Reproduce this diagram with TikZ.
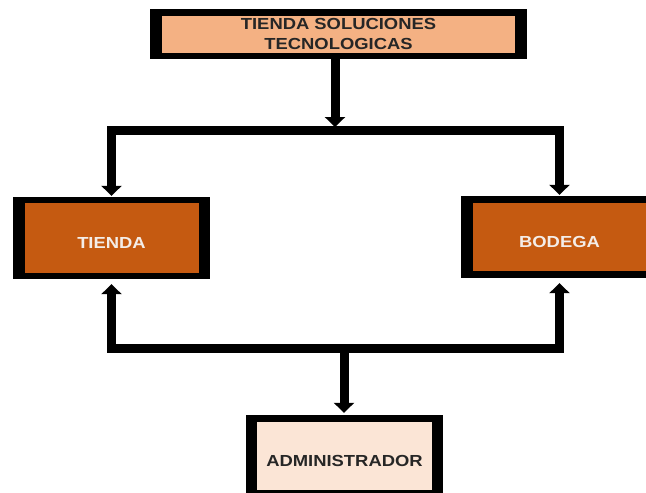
\documentclass[tikz,border=0pt]{standalone}
\usepackage{fontspec}
\setmainfont{Liberation Sans}
\newfontfamily\boxfont{Liberation Sans}[FakeStretch=1.15]
\usetikzlibrary{arrows.meta}
\definecolor{peach}{HTML}{F4B183}
\definecolor{rust}{HTML}{C55A11}
\definecolor{blush}{HTML}{FBE5D6}
\definecolor{ink}{HTML}{262626}
\definecolor{snow}{HTML}{F4EDE8}

\begin{document}
\begin{tikzpicture}[x=1pt, y=-1pt,
        frame/.style={fill=black, inner sep=0pt},
        box/.style={inner sep=0pt, align=center, font=\boxfont\bfseries\fontsize{16}{20}\selectfont},
        single/.style={text height=21pt, text depth=0pt},
        flow/.style={line width=9pt, -{Triangle[width=20pt,length=10pt]}}]
                \clip (0,0) rectangle (646,493);
                \node[frame, minimum width=377pt, minimum height=50pt] (topF) at (338.5,34) {};
                \node[box, fill=peach, text=ink, minimum width=353pt, minimum height=37pt] (top) at (topF) {TIENDA SOLUCIONES\\TECNOLOGICAS};
                \node[frame, minimum width=197pt, minimum height=82pt] (tiendaF) at (111.5,238) {};
                \node[box, single, fill=rust, text=snow, minimum width=174pt, minimum height=70pt] (tienda) at (tiendaF) {TIENDA};
                \node[frame, minimum width=197pt, minimum height=82pt] (bodegaF) at (559.5,237) {};
                \node[box, single, fill=rust, text=snow, minimum width=174pt, minimum height=68pt] (bodega) at (bodegaF) {BODEGA};
                \node[frame, minimum width=197pt, minimum height=82pt] (adminF) at (344.5,456) {};
                \node[box, single, fill=blush, text=ink, minimum width=175pt, minimum height=68pt] (admin) at (adminF) {ADMINISTRADOR};
                \coordinate (upperBus) at (335,130.5);
                \coordinate (lowerBus) at (344,348.5);
                \draw[flow, shorten >=3.5pt] (topF.south -| upperBus) -- (upperBus);
                \draw[flow] (upperBus) -| ([yshift=1pt]tiendaF.north);
                \draw[flow] (upperBus) -| ([yshift=1pt]bodegaF.north);
                \draw[flow] (lowerBus) -| ([yshift=-5pt]tiendaF.south);
                \draw[flow] (lowerBus) -| ([yshift=-5pt]bodegaF.south);
                \draw[flow] (lowerBus) -- ([yshift=2pt]lowerBus |- adminF.north);
            \end{tikzpicture}
\end{document}
